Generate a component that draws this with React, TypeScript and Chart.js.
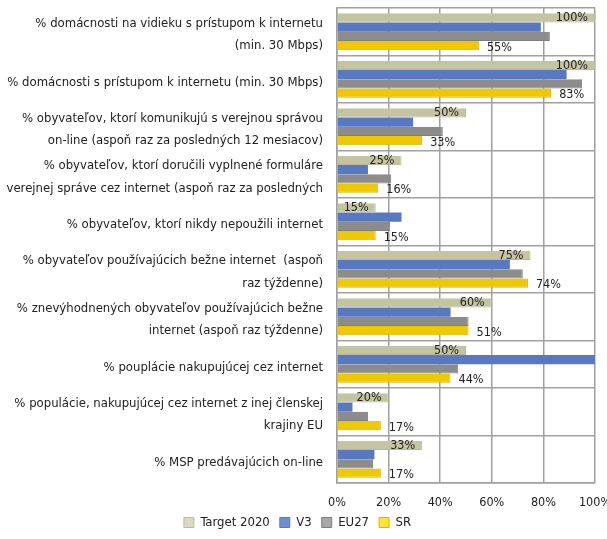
import React, { useEffect, useRef } from "react";
import { Chart, registerables } from "chart.js";

Chart.register(...registerables);

const categories: (string | string[])[] = [
  ["% domácnosti na vidieku s prístupom k internetu", "(min. 30 Mbps)"],
  "% domácnosti s prístupom k internetu (min. 30 Mbps)",
  ["% obyvateľov, ktorí komunikujú s verejnou správou", "on-line (aspoň raz za posledných 12 mesiacov)"],
  ["% obyvateľov, ktorí doručili vyplnené formuláre", "verejnej správe cez internet (aspoň raz za posledných"],
  "% obyvateľov, ktorí nikdy nepoužili internet",
  ["% obyvateľov používajúcich bežne internet  (aspoň", "raz týždenne)"],
  ["% znevýhodnených obyvateľov používajúcich bežne", "internet (aspoň raz týždenne)"],
  "% pouplácie nakupujúcej cez internet",
  ["% populácie, nakupujúcej cez internet z inej členskej", "krajiny EU"],
  "% MSP predávajúcich on-line",
];

const target2020 = [100, 100, 50, 25, 15, 75, 60, 50, 20, 33];
const v3 = [79, 89, 29.5, 12, 25, 67, 44, 100, 6, 14.5];
const eu27 = [82.5, 95, 41, 21, 20.5, 72, 51, 47, 12, 14];
const sr = [55, 83, 33, 16, 15, 74, 51, 44, 17, 17];

const xTicks = [0, 20, 40, 60, 80, 100];

const FONT = "'DejaVu Sans Condensed', 'Liberation Sans Narrow', sans-serif";

function grad(ctx: any, c1: string, c2: string) {
  const chart = ctx.chart;
  const el = ctx.element;
  if (!chart.chartArea || !el) return c2;
  const y = el.y ?? 0;
  const h = el.height ?? 10;
  const g = chart.ctx.createLinearGradient(0, y - h / 2, 0, y + h / 2);
  g.addColorStop(0, c1);
  g.addColorStop(1, c2);
  return g;
}

const labelPlugin = {
  id: "valueLabels",
  afterDatasetsDraw(chart: any) {
    const ctx = chart.ctx;
    ctx.save();
    ctx.font = `12.5px ${FONT}`;
    ctx.fillStyle = "#222";
    ctx.textBaseline = "middle";
    const m0 = chart.getDatasetMeta(0);
    m0.data.forEach((el: any, i: number) => {
      ctx.textAlign = "right";
      ctx.fillText(target2020[i] + "%", el.x - 7, el.y);
    });
    const m3 = chart.getDatasetMeta(3);
    m3.data.forEach((el: any, i: number) => {
      ctx.textAlign = "left";
      ctx.fillText(sr[i] + "%", el.x + 8, el.y + 2);
    });
    ctx.restore();
  },
};

export default function App() {
  const ref = useRef<HTMLCanvasElement>(null);
  useEffect(() => {
    const canvas = ref.current!;
    const chart = new Chart(canvas, {
      type: "bar",
      data: {
        labels: categories,
        datasets: [
          {
            label: "Target 2020",
            data: target2020,
            backgroundColor: (c: any) => grad(c, "#EEEEDA", "#C4C4A2"),
            borderColor: "#B8B89A",
            borderWidth: { right: 1, bottom: 1 } as any,
          },
          {
            label: "V3",
            data: v3,
            backgroundColor: (c: any) => grad(c, "#93ACE4", "#5878C2"),
            borderWidth: 0,
          },
          {
            label: "EU27",
            data: eu27,
            backgroundColor: (c: any) => grad(c, "#C6C6C6", "#8C8C8C"),
            borderColor: "#7E7E7E",
            borderWidth: { right: 1, bottom: 1 } as any,
          },
          {
            label: "SR",
            data: sr,
            backgroundColor: (c: any) => grad(c, "#FFEE55", "#F0C800"),
            borderColor: "#D8B400",
            borderWidth: { right: 1, bottom: 1 } as any,
          },
        ],
      },
      options: {
        indexAxis: "y",
        animation: false,
        responsive: false,
        maintainAspectRatio: false,
        devicePixelRatio: 1,
        layout: { padding: { top: 8, right: 12, bottom: 0, left: 0 } },
        datasets: { bar: { categoryPercentage: 0.78, barPercentage: 1.0 } },
        plugins: {
          legend: {
            position: "bottom",
            labels: {
              font: { family: FONT, size: 13 },
              color: "#222",
              boxWidth: 10,
              boxHeight: 10,
              padding: 10,
              generateLabels: (chart: any) => {
                const cols = [
                  ["#DADABF", "#B8B89A"],
                  ["#6E8ED4", "#5878C2"],
                  ["#A8A8A8", "#7E7E7E"],
                  ["#FFE533", "#D8B400"],
                ];
                return chart.data.datasets.map((d: any, i: number) => ({
                  text: d.label,
                  fillStyle: cols[i][0],
                  strokeStyle: cols[i][1],
                  lineWidth: 1,
                  datasetIndex: i,
                  hidden: false,
                  fontColor: "#222",
                }));
              },
            },
          },
          tooltip: { enabled: false },
        },
        scales: {
          x: {
            min: 0,
            max: 100,
            afterBuildTicks: (s: any) => {
              s.ticks = xTicks.map((v) => ({ value: v }));
            },
            afterFit: (s: any) => {
              s.height = 23;
              s.paddingLeft = 0;
              s.paddingRight = 0;
            },
            ticks: {
              callback: (v: any) => v + "%",
              font: { family: FONT, size: 12.5 },
              color: "#222",
              padding: 12,
              maxRotation: 0,
            },
            grid: { color: "#A0A0A0", lineWidth: 1.5, drawTicks: false },
            border: { color: "#A0A0A0", width: 1.5 },
          },
          y: {
            afterFit: (s: any) => {
              s.width = 337;
              s.paddingTop = 0;
              s.paddingBottom = 0;
            },
            afterUpdate: (s: any) => {
              if (!s._shifted) {
                const orig = s.drawLabels;
                s.drawLabels = function (ca: any) {
                  const c = this.ctx;
                  c.save();
                  c.translate(0, 3);
                  orig.call(this, ca);
                  c.restore();
                };
                s._shifted = true;
              }
            },
            ticks: {
              font: { family: FONT, size: 13, lineHeight: 1.74 },
              color: "#222",
              padding: 14,
              autoSkip: false,
            },
            grid: { color: "#A0A0A0", lineWidth: 1.5, drawTicks: false, offset: true },
            border: { color: "#A0A0A0", width: 1.5 },
          },
        },
      },
      plugins: [labelPlugin],
    } as any);
    return () => chart.destroy();
  }, []);
  return (
    <div style={{ position: "fixed", left: 0, top: 0, width: 607, height: 539, background: "#fff" }}>
      <canvas ref={ref} width={607} height={539} style={{ width: 607, height: 539 }} />
    </div>
  );
}
